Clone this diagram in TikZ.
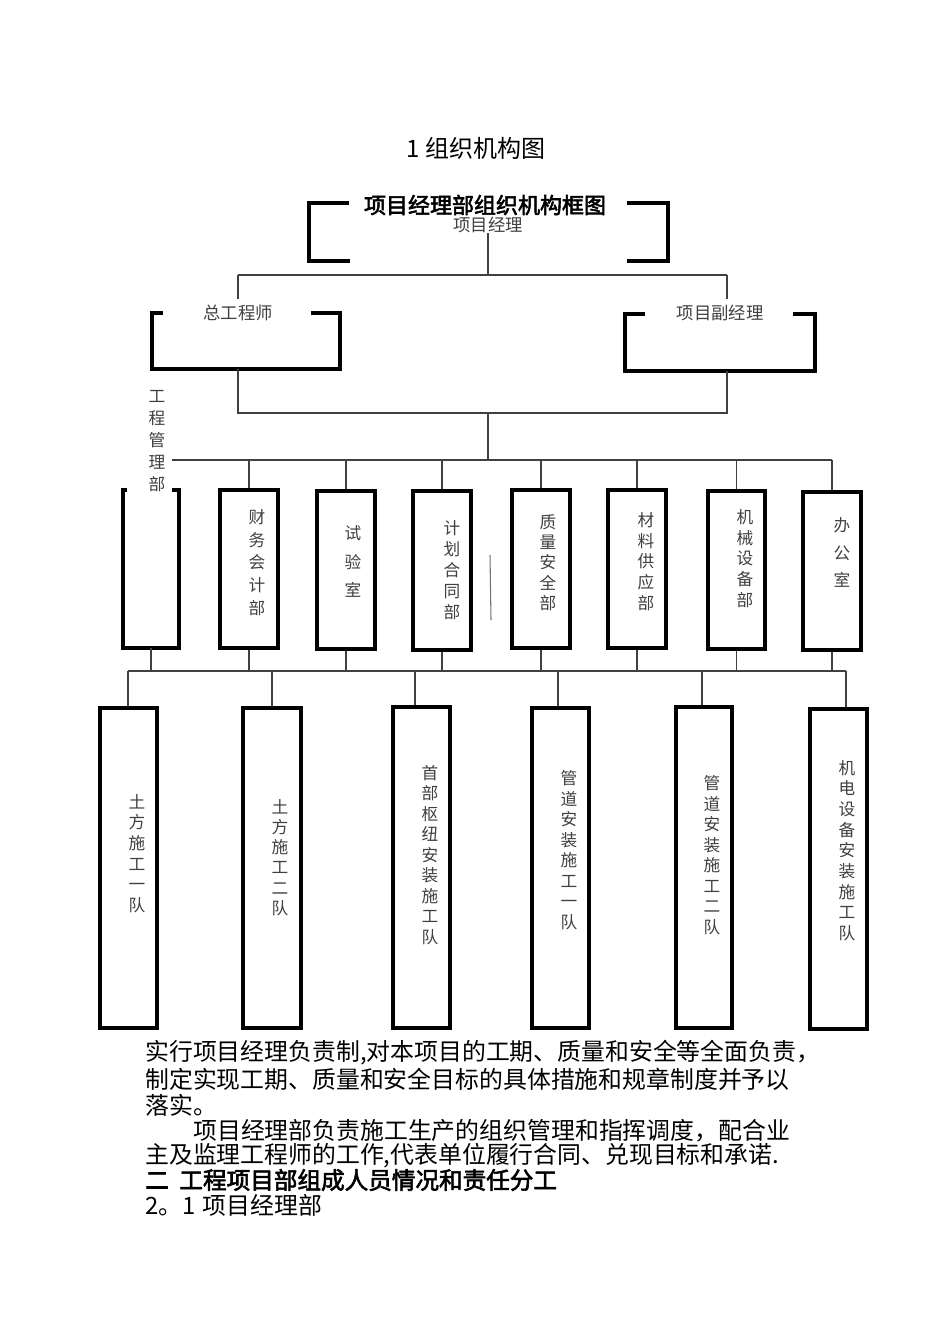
\documentclass[tikz,border=0pt]{standalone}
\usepackage{fontspec}
\setmainfont{Noto Sans CJK SC}[AutoFakeBold=2.5]
\usetikzlibrary{fit,calc}
\newcommand\vfnt[1]{\fontsize{12.5}{#1}\selectfont}
\tikzset{
  frame/.style={draw=none,inner sep=0pt},
  box/.style={draw=black,line width=3pt,inner sep=0pt},
  bar/.style={draw=black,line width=3pt,line join=miter},
  conn/.style={draw=black!75,line width=0.8pt},
  lab/.style={font=\fontsize{13}{15}\selectfont,text=black!75,inner sep=0pt},
  vlab/.style={text=black!75,inner sep=0pt,align=center},
  para/.style={font=\fontsize{17.9}{20}\selectfont,anchor=west,inner sep=0pt},
}
\begin{document}
\begin{tikzpicture}[x=0.75pt,y=-0.75pt]
\useasboundingbox[fill=white] (0,0) rectangle (950,1344);

% titles
\node[font=\fontsize{18}{20}\selectfont,inner sep=0pt] (title) at (476,148) {1 组织机构图};
\node[font=\bfseries\fontsize{16.5}{20}\selectfont,inner sep=0pt] (bt) at (485,205) {项目经理部组织机构框图};

% project manager
\node[frame,fit={(309,203)(668,261)}] (pm) {};
\node[lab] (pmt) at (488,225) {项目经理};
\draw[bar] ($(pm.north west)+(40,0)$) -- (pm.north west) -- (pm.south west) -- ($(pm.south west)+(41,0)$);
\draw[bar] ($(pm.north east)+(-41,0)$) -- (pm.north east) -- (pm.south east) -- ($(pm.south east)+(-41,0)$);

\coordinate (t1) at (488,275);
\coordinate (tL) at (238,275);
\coordinate (tR) at (727,275);

% chief engineer
\node[frame,fit={(152,313)(340,369)}] (ce) {};
\node[lab] (cet) at (238,313) {总工程师};
\draw[bar] ($(ce.north west)+(11,0)$) -- (ce.north west) -- (ce.south west) -- (ce.south east) -- (ce.north east) -- ($(ce.north east)+(-29,0)$);

% deputy manager
\node[frame,fit={(625,314)(815,371)}] (dm) {};
\node[lab] (dmt) at (720,313) {项目副经理};
\draw[bar] ($(dm.north west)+(20,0)$) -- (dm.north west) -- (dm.south west) -- (dm.south east) -- (dm.north east) -- ($(dm.north east)+(-22,0)$);

\draw[conn] (pmt.south) -- (t1);
\draw[conn] (tL) -- (tR);
\draw[conn] (tL) -- ([yshift=4pt]cet.north);
\draw[conn] (tR) -- ([yshift=4pt]tR |- dmt.north);

\coordinate (mL) at (238,413);
\coordinate (mR) at (727,413);
\coordinate (mC) at (488,413);
\coordinate (bus1L) at (172,460);
\coordinate (bus1R) at (832,460);
\coordinate (bus1C) at (488,460);
\draw[conn] (ce.south -| mL) -- (mL) -- (mR) -- (dm.south -| mR);
\draw[conn] (mC) -- (bus1C);
\draw[conn] (bus1L) -- (bus1R);

% middle departments
\node[frame,fit={(123,490)(179,648)}] (m1) {};
\draw[bar] ($(m1.north west)+(4,0)$) -- (m1.north west) -- (m1.south west) -- (m1.south east) -- (m1.north east) -- ($(m1.north east)+(-7,0)$);
\node[vlab,font=\vfnt{16.5pt}] (m1t) at (157,441) {工\\程\\管\\理\\部};

\node[box,fit={(220,490)(278,648)}] (m2) {};
\node[vlab,font=\vfnt{17.1pt}] (m2t) at (257,562.5) {财\\务\\会\\计\\部};
\node[box,fit={(317,491)(375,649)}] (m3) {};
\node[vlab,font=\vfnt{21.4pt}] (m3t) at (353,561.5) {试\\验\\室};
\node[box,fit={(413,491)(471,650)}] (m4) {};
\node[vlab,font=\vfnt{15.75pt}] (m4t) at (452,570) {计\\划\\合\\同\\部};
\node[box,fit={(512,490)(570,648)}] (m5) {};
\node[vlab,font=\vfnt{15.2pt}] (m5t) at (548,562.5) {质\\量\\安\\全\\部};
\node[box,fit={(608,490)(666,648)}] (m6) {};
\node[vlab,font=\vfnt{15.6pt}] (m6t) at (646,561.5) {材\\料\\供\\应\\部};
\node[box,fit={(708,491)(765,649)}] (m7) {};
\node[vlab,font=\vfnt{15.6pt}] (m7t) at (745,558.5) {机\\械\\设\\备\\部};
\node[box,fit={(803,492)(861,650)}] (m8) {};
\node[vlab,font=\vfnt{20.6pt}] (m8t) at (842,552.5) {办\\公\\室};

\draw[black!55,line width=0.8pt] (490,555) -- (491,620);

\coordinate (bus2L) at (128,671);
\coordinate (bus2R) at (846,671);
\foreach \m in {m2,m3,m4,m5,m6,m7,m8}{
  \draw[conn] (\m.north) -- (\m.north |- bus1L);
}
\foreach \m in {m1,m2,m3,m4,m5,m6,m7,m8}{
  \draw[conn] (\m.south) -- (\m.south |- bus2L);
}
\draw[conn] (bus2L) -- (bus2R);

% teams
\node[box,fit={(100,708)(157,1028)}] (n1) {};
\node[vlab,font=\vfnt{15.45pt}] (n1t) at (137,853.5) {土\\方\\施\\工\\一\\队};
\node[box,fit={(243,708)(301,1028)}] (n2) {};
\node[vlab,font=\vfnt{15.15pt}] (n2t) at (280,857.5) {土\\方\\施\\工\\二\\队};
\node[box,fit={(393,707)(450,1028)}] (n3) {};
\node[vlab,font=\vfnt{15.4pt}] (n3t) at (430,855) {首\\部\\枢\\纽\\安\\装\\施\\工\\队};
\node[box,fit={(532,708)(589,1028)}] (n4) {};
\node[vlab,font=\vfnt{15.4pt}] (n4t) at (569,850) {管\\道\\安\\装\\施\\工\\一\\队};
\node[box,fit={(676,707)(732,1028)}] (n5) {};
\node[vlab,font=\vfnt{15.4pt}] (n5t) at (712,855) {管\\道\\安\\装\\施\\工\\二\\队};
\node[box,fit={(810,709)(867,1029)}] (n6) {};
\node[vlab,font=\vfnt{15.5pt}] (n6t) at (847,850.5) {机\\电\\设\\备\\安\\装\\施\\工\\队};

\coordinate (d1) at (128,671);
\coordinate (d2) at (272,671);
\coordinate (d3) at (415,671);
\coordinate (d4) at (558,671);
\coordinate (d5) at (702,671);
\coordinate (d6) at (846,671);
\draw[conn] (d1) -- (d1 |- n1.north);
\draw[conn] (d2) -- (d2 |- n2.north);
\draw[conn] (d3) -- (d3 |- n3.north);
\draw[conn] (d4) -- (d4 |- n4.north);
\draw[conn] (d5) -- (d5 |- n5.north);
\draw[conn] (d6) -- (d6 |- n6.north);

% paragraph text
\node[para] (p1) at (145,1053) {实行项目经理负责制,对本项目的工期、质量和安全等全面负责，};
\node[para] (p2) at (145,1079) {制定实现工期、质量和安全目标的具体措施和规章制度并予以};
\node[para] (p3) at (145,1105) {落实。};
\node[para] (p4) at (193,1131) {项目经理部负责施工生产的组织管理和指挥调度，配合业};
\node[para] (p5) at (145,1156) {主及监理工程师的工作,代表单位履行合同、兑现目标和承诺.};
\node[para,font=\bfseries\fontsize{17.7}{20}\selectfont] (p6) at (145,1180) {二\hspace{0.45em}工程项目部组成人员情况和责任分工};
\node[para] (p7) at (145,1205) {2。1\hspace{0.3em}项目经理部};
\end{tikzpicture}
\end{document}
